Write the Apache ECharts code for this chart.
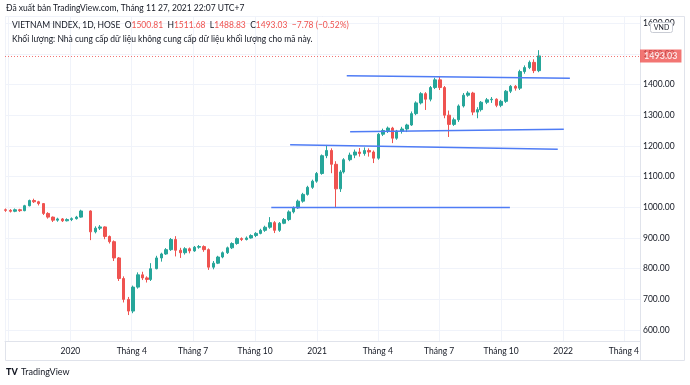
<!DOCTYPE html>
<html><head><meta charset="utf-8">
<script src="https://cdn.jsdelivr.net/npm/echarts@6/dist/echarts.min.js"></script>
<style>html,body{margin:0;padding:0;background:#fff}#c{width:690px;height:385px}</style>
</head><body><div id="c"></div>
<script>
// Weekly candles
const dates = ['2019-09-27','2019-10-04','2019-10-11','2019-10-18','2019-10-25','2019-11-01','2019-11-08','2019-11-15','2019-11-22','2019-11-29',
'2019-12-06','2019-12-13','2019-12-20','2019-12-27','2020-01-03','2020-01-10','2020-01-17','2020-01-31','2020-02-07','2020-02-14',
'2020-02-21','2020-02-28','2020-03-06','2020-03-13','2020-03-20','2020-03-27','2020-04-03','2020-04-10','2020-04-17','2020-04-24',
'2020-04-29','2020-05-08','2020-05-15','2020-05-22','2020-05-29','2020-06-05','2020-06-12','2020-06-19','2020-06-26','2020-07-03',
'2020-07-10','2020-07-17','2020-07-24','2020-07-31','2020-08-07','2020-08-14','2020-08-21','2020-08-28','2020-09-04','2020-09-11',
'2020-09-18','2020-09-25','2020-10-02','2020-10-09','2020-10-16','2020-10-23','2020-10-30','2020-11-06','2020-11-13','2020-11-20',
'2020-11-27','2020-12-04','2020-12-11','2020-12-18','2020-12-25','2020-12-31','2021-01-08','2021-01-15','2021-01-22','2021-01-29',
'2021-02-05','2021-02-09','2021-02-19','2021-02-26','2021-03-05','2021-03-12','2021-03-19','2021-03-26','2021-04-02','2021-04-09',
'2021-04-16','2021-04-23','2021-04-29','2021-05-07','2021-05-14','2021-05-21','2021-05-28','2021-06-04','2021-06-11','2021-06-18',
'2021-06-25','2021-07-02','2021-07-09','2021-07-16','2021-07-23','2021-07-30','2021-08-06','2021-08-13','2021-08-20','2021-08-27',
'2021-09-01','2021-09-10','2021-09-17','2021-09-24','2021-10-01','2021-10-08','2021-10-15','2021-10-22','2021-10-29','2021-11-05',
'2021-11-12','2021-11-19','2021-11-26'];
const opens = [992,990,987,992,989,1005,1022,1018,1012,980,
968,958,962,956,960,963,968,988,920,932,
936,905,888,835,768,700,662,740,780,770,
765,800,835,848,862,895,860,852,865,858,
870,872,862,805,818,838,852,868,882,898,
895,900,908,915,925,935,950,925,948,960,
985,998,1020,1042,1065,1085,1110,1168,1185,1140,
1060,1115,1155,1170,1180,1175,1185,1180,1160,1238,
1250,1258,1225,1248,1255,1268,1305,1340,1370,1352,
1390,1415,1390,1300,1270,1285,1330,1365,1372,1310,
1318,1342,1350,1352,1332,1345,1378,1394,1388,1442,
1455,1472,1445];
const closes = [990,987,992,989,1005,1022,1018,1012,980,968,
958,962,956,960,963,968,988,920,932,936,
905,888,835,768,700,662,740,780,770,765,
800,835,848,862,895,860,852,865,858,870,
872,862,805,818,838,852,868,882,898,895,
900,908,915,925,935,950,925,948,960,985,
998,1020,1042,1065,1085,1110,1168,1185,1140,1060,
1115,1155,1170,1180,1175,1185,1180,1160,1238,1250,
1258,1225,1248,1255,1268,1305,1340,1370,1352,1390,
1415,1390,1300,1270,1285,1330,1365,1372,1310,1318,
1342,1350,1352,1332,1345,1378,1394,1388,1442,1455,
1472,1445,1493.03];
const lows = [985,983,984,985,987,1003,1014,1006,975,963,
952,953,952,954,955,960,966,893,915,926,
896,882,825,760,690,649,655,735,763,755,
760,798,823,845,858,840,835,846,850,855,
865,855,796,798,815,834,848,864,878,890,
892,898,903,912,920,930,916,920,945,955,
980,995,1015,1038,1060,1080,1106,1160,1111,1000,
1050,1110,1150,1160,1165,1168,1165,1144,1155,1232,
1242,1209,1220,1240,1245,1265,1300,1335,1317,1345,
1385,1382,1290,1229,1265,1278,1325,1360,1300,1290,
1312,1336,1340,1326,1326,1340,1372,1380,1382,1435,
1450,1437,1440];
const highs = [996,994,996,995,1008,1025,1028,1021,1014,984,
970,966,965,964,967,972,992,990,938,942,
938,908,892,838,775,708,745,788,790,775,
818,842,852,867,900,906,868,870,869,874,
877,876,866,825,842,856,872,886,902,902,
905,912,919,930,940,968,955,952,965,990,
1003,1025,1047,1070,1090,1115,1172,1203,1192,1150,
1121,1160,1178,1188,1193,1195,1192,1185,1242,1256,
1263,1262,1252,1262,1272,1312,1345,1375,1375,1395,
1422,1425,1395,1315,1292,1335,1372,1378,1376,1326,
1346,1356,1359,1355,1350,1382,1398,1398,1448,1462,
1478,1482,1511.68];

// Drawn trend lines: [start, end] as [date, price]
const trendLine1 = [['2021-02-14', 1428], ['2022-01-11', 1420]];
const trendLine2 = [['2021-02-19', 1246], ['2022-01-02', 1254]];
const trendLine3 = [['2020-11-22', 1204], ['2021-12-24', 1189]];
const trendLine4 = [['2020-10-25', 999], ['2021-10-14', 999]];

const publishedText = 'Đã xuất bản TradingView.com, Tháng 11 27, 2021 22:07 UTC+7';
const symbolText = 'VIETNAM INDEX, 1D, HOSE';
const ohlcLabels = ['O', 'H', 'L', 'C'];
const ohlcValues = ['1500.81', '1511.68', '1488.83', '1493.03'];
const changeText = '−7.78 (−0.52%)';
const volumeText = 'Khối lượng: Nhà cung cấp dữ liệu không cung cấp dữ liệu khối lượng cho mã này.';
const currencyText = 'VND';
const lastPrice = closes[closes.length - 1];

const candleData = dates.map((d, i) => [d, opens[i], closes[i], lows[i], highs[i]]);

let legendLine = '{d|' + symbolText + '  }';
ohlcLabels.forEach((l, i) => { legendLine += '{d|' + l + '}{r|' + ohlcValues[i] + '}{d|  }'; });
legendLine += '{r|' + changeText + '}';

const FONT = 'Lato';
const TXT = '#131722';
const UP = '#26a69a', DOWN = '#ef5350';
const trendStyle = { color: '#4f7cf5', width: 1.5 };

const chart = echarts.init(document.getElementById('c'), null, { renderer: 'canvas' });
chart.setOption({
  animation: false,
  backgroundColor: '#ffffff',
  textStyle: { fontFamily: FONT },
  title: [
    { text: publishedText, left: 6, top: 4, padding: 0,
      textStyle: { fontSize: 8.5, fontWeight: 'normal', color: TXT, fontFamily: FONT } },
    { text: legendLine, left: 12, top: 21, padding: 0,
      textStyle: { fontSize: 8.5, fontWeight: 'normal', fontFamily: FONT,
        rich: { d: { color: TXT, fontSize: 8.5, fontFamily: FONT }, r: { color: DOWN, fontSize: 8.5, fontFamily: FONT } } } },
    { text: volumeText, left: 12, top: 34.5, padding: 0,
      textStyle: { fontSize: 8.5, fontWeight: 'normal', color: TXT, fontFamily: FONT } }
  ],
  grid: { left: 5, right: 50, top: 16, bottom: 44, outerBoundsMode: 'none', containLabel: false },
  xAxis: {
    type: 'time', min: '2019-09-26', max: '2022-04-25', splitNumber: 10,
    axisLine: { show: true, lineStyle: { color: '#e0e3eb' } },
    axisTick: { show: false },
    axisLabel: { color: TXT, fontFamily: FONT, fontSize: 8.5, margin: 6, hideOverlap: false,
      formatter: function (v) { const d = new Date(v); if (d.getFullYear() < 2020) return ''; return d.getMonth() === 0 ? String(d.getFullYear()) : 'Tháng ' + (d.getMonth() + 1); } },
    splitLine: { show: true, lineStyle: { color: '#f0f3fa' } }
  },
  yAxis: {
    type: 'value', position: 'right', min: 564.5, max: 1623, splitNumber: 10, scale: true,
    axisLine: { show: true, lineStyle: { color: '#e0e3eb' } },
    axisTick: { show: false },
    axisLabel: { color: TXT, fontFamily: FONT, fontSize: 8.5, margin: 3, showMinLabel: false, showMaxLabel: false,
      formatter: v => v.toFixed(2) },
    splitLine: { show: true, lineStyle: { color: '#f0f3fa' } }
  },
  series: [
    { type: 'candlestick', data: candleData, encode: { x: 0, y: [1, 2, 3, 4] }, barWidth: 3,
      itemStyle: { color: UP, color0: DOWN, borderColor: UP, borderColor0: DOWN, borderWidth: 1 },
      markLine: { symbol: 'none', silent: true, animation: false,
        data: [{ yAxis: lastPrice }],
        lineStyle: { color: DOWN, type: [1, 2], width: 1, opacity: 0.8 },
        label: { position: 'end', distance: 0, formatter: lastPrice.toFixed(2), color: '#fff', backgroundColor: DOWN,
          fontWeight: 'bold', fontSize: 9, fontFamily: FONT, padding: [2, 4, 2, 4] } } },
    { type: 'line', data: trendLine1, symbol: 'none', silent: true, lineStyle: trendStyle, z: 3 },
    { type: 'line', data: trendLine2, symbol: 'none', silent: true, lineStyle: trendStyle, z: 3 },
    { type: 'line', data: trendLine3, symbol: 'none', silent: true, lineStyle: trendStyle, z: 3 },
    { type: 'line', data: trendLine4, symbol: 'none', silent: true, lineStyle: trendStyle, z: 3 }
  ],
  graphic: [
    { type: 'rect', silent: true, z: 0, shape: { x: 5.5, y: 16.5, width: 679, height: 344 },
      style: { fill: 'none', stroke: '#e0e3eb', lineWidth: 1 } },
    { type: 'line', silent: true, shape: { x1: 640.5, y1: 341, x2: 640.5, y2: 360 },
      style: { stroke: '#e0e3eb', lineWidth: 1 } },
    { type: 'rect', silent: true, z: 100, shape: { x: 650.5, y: 22.5, width: 22, height: 10, r: 2 },
      style: { fill: '#fff', stroke: '#c9ccd4', lineWidth: 1 } },
    { type: 'text', silent: true, z: 101, x: 661.5, y: 27.5,
      style: { text: currencyText, fill: TXT, font: '7px Lato', align: 'center', verticalAlign: 'middle' } },
    { type: 'text', silent: true, x: 6, y: 372,
      style: { text: 'TV', fill: TXT, font: '900 9px Lato', verticalAlign: 'middle' } },
    { type: 'text', silent: true, x: 21, y: 372,
      style: { text: 'TradingView', fill: TXT, font: '9px Lato', verticalAlign: 'middle' } }
  ]
});
</script>
</body></html>
